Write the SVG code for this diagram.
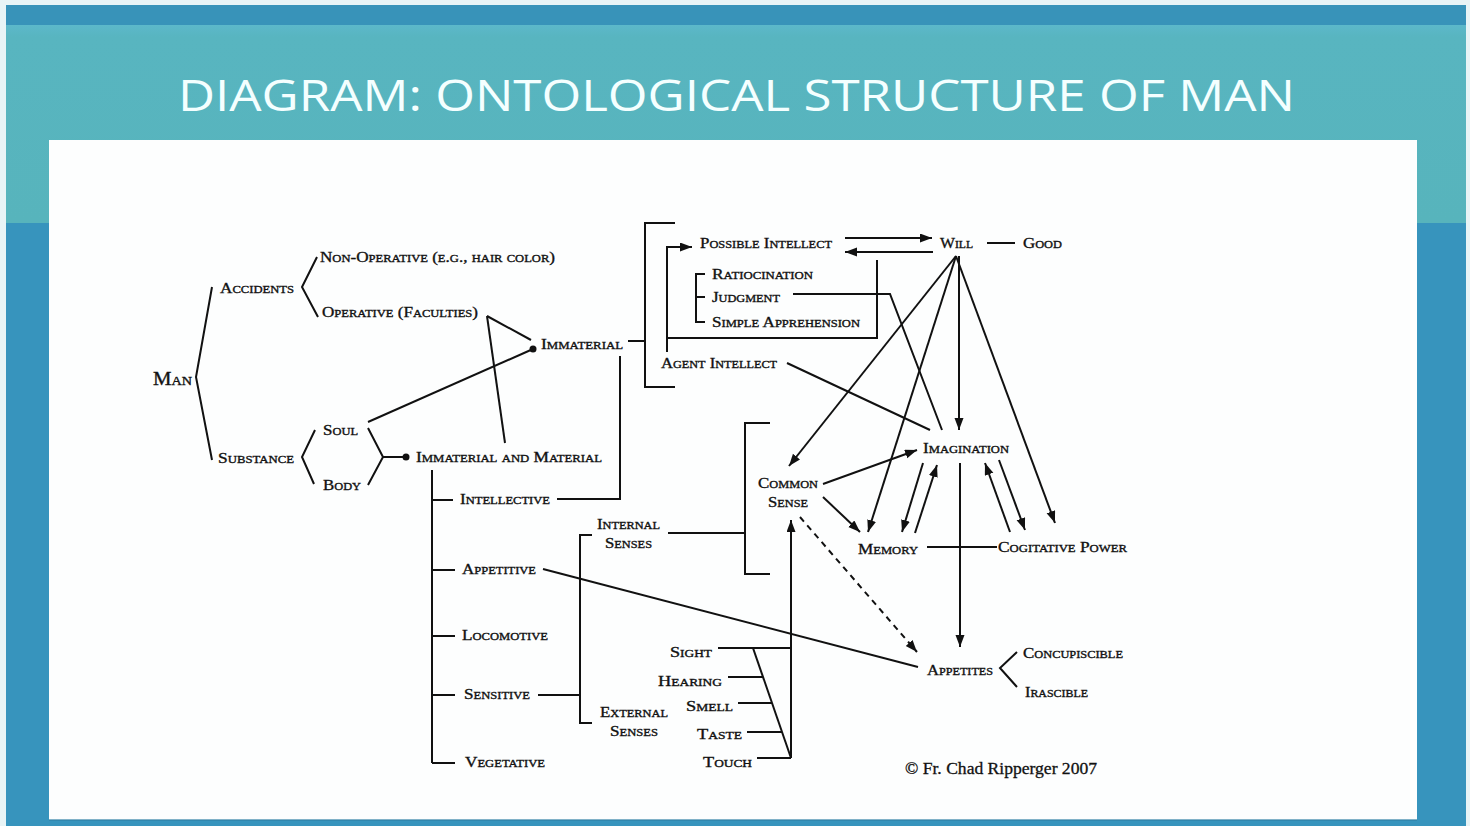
<svg xmlns="http://www.w3.org/2000/svg" width="1470" height="826" viewBox="0 0 1470 826">
<defs>
<style>
.sc{font-family:"Liberation Serif","Times New Roman",serif;font-size:15px;font-variant:small-caps;fill:#111;stroke:#111;stroke-width:0.35;}
.big{font-size:19px;}
.ln{stroke:#111;stroke-width:2;fill:none;stroke-linejoin:miter;}
.ar{stroke:#111;stroke-width:2;fill:none;marker-end:url(#ah);}
.dash{stroke-dasharray:6 5;}
.title{font-family:"Open Sans","Liberation Sans",sans-serif;font-size:44px;fill:#f4ffff;}
.copy{font-family:"Liberation Serif","Times New Roman",serif;font-size:17px;fill:#111;stroke:#111;stroke-width:0.3;}
</style>
<marker id="ah" markerUnits="userSpaceOnUse" markerWidth="13" markerHeight="10" refX="12" refY="4.5" orient="auto">
<path d="M0,0 L12,4.5 L0,9 z" fill="#111"/>
</marker>
<linearGradient id="teal" x1="0" y1="0" x2="0" y2="1">
<stop offset="0" stop-color="#5cb8ca"/>
<stop offset="0.06" stop-color="#58b5c0"/>
<stop offset="1" stop-color="#57b4bc"/>
</linearGradient>
</defs>
<g id="background">
<rect x="0" y="0" width="1470" height="826" fill="#e8f4f6"/>
<rect x="6" y="5" width="1460" height="821" fill="#3794bd"/>
<rect x="6" y="5" width="1460" height="20" fill="#3893b9"/>
<rect x="6" y="25" width="1460" height="198" fill="url(#teal)"/>
<rect x="49" y="140" width="1368" height="680" fill="#fdfefe"/>
<rect x="49" y="819" width="1368" height="2" fill="#2e7fa3" opacity="0.6"/>
</g>
<g id="title">
<text class="title" x="178" y="111" textLength="1117" lengthAdjust="spacingAndGlyphs">DIAGRAM: ONTOLOGICAL STRUCTURE OF MAN</text>
</g>
<g id="connectors">
<polyline class="ln" points="212,287 196,377 212,460"/>
<polyline class="ln" points="317,257 302,287 318,317"/>
<polyline class="ln" points="315,430 302,457 314,484"/>
<polyline class="ln" points="368,428 383,457 368,485"/>
<line class="ln" x1="383" y1="457" x2="405" y2="457"/>
<circle cx="406" cy="457" r="3.5" fill="#111"/>
<line class="ln" x1="487" y1="316" x2="531" y2="340"/>
<line class="ln" x1="487" y1="316" x2="505" y2="443"/>
<line class="ln" x1="368" y1="422" x2="533" y2="349"/>
<circle cx="533" cy="349" r="3.5" fill="#111"/>
<line class="ln" x1="628" y1="341" x2="646" y2="341"/>
<polyline class="ln" points="557,499 620,499 620,356"/>
<line class="ln" x1="432" y1="470" x2="432" y2="763"/>
<line class="ln" x1="432" y1="500" x2="453" y2="500"/>
<line class="ln" x1="432" y1="570" x2="455" y2="570"/>
<line class="ln" x1="432" y1="636" x2="455" y2="636"/>
<line class="ln" x1="432" y1="695" x2="455" y2="695"/>
<line class="ln" x1="432" y1="763" x2="455" y2="763"/>
<line class="ln" x1="543" y1="569" x2="918" y2="667"/>
<line class="ln" x1="538" y1="695" x2="580" y2="695"/>
<polyline class="ln" points="592,535 580,535 580,723 592,723"/>
<line class="ln" x1="668" y1="533" x2="745" y2="533"/>
<polyline class="ln" points="770,423 745,423 745,574 770,574"/>
<line class="ln" x1="718" y1="648" x2="791" y2="648"/>
<line class="ln" x1="728" y1="677" x2="763" y2="677"/>
<line class="ln" x1="738" y1="703" x2="772" y2="703"/>
<line class="ln" x1="747" y1="732" x2="782" y2="732"/>
<line class="ln" x1="757" y1="758" x2="791" y2="758"/>
<line class="ln" x1="753" y1="648" x2="791" y2="758"/>
<line class="ar" x1="791" y1="758" x2="791" y2="520"/>
<polyline class="ln" points="675,223 645,223 645,387 675,387"/>
<polyline class="ar" points="667,352 667,247 692,247"/>
<polyline class="ln" points="667,338 877,338 877,260"/>
<polyline class="ln" points="705,274 696,274 696,322 705,322"/>
<line class="ln" x1="696" y1="297" x2="705" y2="297"/>
<polyline class="ln" points="793,294 890,294 942,430"/>
<line class="ln" x1="787" y1="363" x2="930" y2="430"/>
<line class="ar" x1="845" y1="238" x2="932" y2="238"/>
<line class="ar" x1="933" y1="252" x2="845" y2="252"/>
<line class="ln" x1="987" y1="243" x2="1015" y2="243"/>
<line class="ar" x1="956" y1="256" x2="789" y2="466"/>
<line class="ar" x1="956" y1="256" x2="868" y2="532"/>
<line class="ar" x1="959" y1="256" x2="959" y2="430"/>
<line class="ar" x1="956" y1="256" x2="1055" y2="523"/>
<line class="ar" x1="823" y1="484" x2="917" y2="450"/>
<line class="ar" x1="823" y1="497" x2="860" y2="532"/>
<line class="ar dash" x1="800" y1="517" x2="917" y2="652"/>
<line class="ar" x1="923" y1="463" x2="902" y2="532"/>
<line class="ar" x1="915" y1="533" x2="937" y2="465"/>
<line class="ar" x1="1010" y1="532" x2="985" y2="463"/>
<line class="ar" x1="999" y1="460" x2="1025" y2="530"/>
<line class="ar" x1="960" y1="463" x2="960" y2="647"/>
<line class="ln" x1="927" y1="547" x2="997" y2="547"/>
<polyline class="ln" points="1017,652 1000,668 1017,687"/>
</g>
<g id="man"><text class="sc big" x="153" y="385" textLength="39" lengthAdjust="spacingAndGlyphs">Man</text></g>
<g id="accidents"><text class="sc" x="220" y="293" textLength="74" lengthAdjust="spacingAndGlyphs">Accidents</text></g>
<g id="non-operative"><text class="sc" x="320" y="262" textLength="235" lengthAdjust="spacingAndGlyphs">Non-Operative (e.g., hair color)</text></g>
<g id="operative"><text class="sc" x="322" y="317" textLength="156" lengthAdjust="spacingAndGlyphs">Operative (Faculties)</text></g>
<g id="immaterial"><text class="sc" x="541" y="349" textLength="82" lengthAdjust="spacingAndGlyphs">Immaterial</text></g>
<g id="soul"><text class="sc" x="323" y="435" textLength="35" lengthAdjust="spacingAndGlyphs">Soul</text></g>
<g id="substance"><text class="sc" x="218" y="463" textLength="76" lengthAdjust="spacingAndGlyphs">Substance</text></g>
<g id="body"><text class="sc" x="323" y="490" textLength="38" lengthAdjust="spacingAndGlyphs">Body</text></g>
<g id="immaterial-material"><text class="sc" x="416" y="462" textLength="186" lengthAdjust="spacingAndGlyphs">Immaterial and Material</text></g>
<g id="intellective"><text class="sc" x="460" y="504" textLength="90" lengthAdjust="spacingAndGlyphs">Intellective</text></g>
<g id="appetitive"><text class="sc" x="462" y="574" textLength="74" lengthAdjust="spacingAndGlyphs">Appetitive</text></g>
<g id="locomotive"><text class="sc" x="462" y="640" textLength="86" lengthAdjust="spacingAndGlyphs">Locomotive</text></g>
<g id="sensitive"><text class="sc" x="464" y="699" textLength="66" lengthAdjust="spacingAndGlyphs">Sensitive</text></g>
<g id="vegetative"><text class="sc" x="465" y="767" textLength="80" lengthAdjust="spacingAndGlyphs">Vegetative</text></g>
<g id="internal-senses">
<text class="sc" x="597" y="529" textLength="63" lengthAdjust="spacingAndGlyphs">Internal</text>
<text class="sc" x="605" y="548" textLength="47" lengthAdjust="spacingAndGlyphs">Senses</text>
</g>
<g id="external-senses">
<text class="sc" x="600" y="717" textLength="68" lengthAdjust="spacingAndGlyphs">External</text>
<text class="sc" x="610" y="736" textLength="48" lengthAdjust="spacingAndGlyphs">Senses</text>
</g>
<g id="sight"><text class="sc" x="670" y="657" textLength="42" lengthAdjust="spacingAndGlyphs">Sight</text></g>
<g id="hearing"><text class="sc" x="658" y="686" textLength="64" lengthAdjust="spacingAndGlyphs">Hearing</text></g>
<g id="smell"><text class="sc" x="686" y="711" textLength="47" lengthAdjust="spacingAndGlyphs">Smell</text></g>
<g id="taste"><text class="sc" x="697" y="739" textLength="45" lengthAdjust="spacingAndGlyphs">Taste</text></g>
<g id="touch"><text class="sc" x="703" y="767" textLength="49" lengthAdjust="spacingAndGlyphs">Touch</text></g>
<g id="common-sense">
<text class="sc" x="758" y="488" textLength="60" lengthAdjust="spacingAndGlyphs">Common</text>
<text class="sc" x="768" y="507" textLength="40" lengthAdjust="spacingAndGlyphs">Sense</text>
</g>
<g id="imagination"><text class="sc" x="923" y="453" textLength="86" lengthAdjust="spacingAndGlyphs">Imagination</text></g>
<g id="memory"><text class="sc" x="858" y="554" textLength="60" lengthAdjust="spacingAndGlyphs">Memory</text></g>
<g id="cogitative-power"><text class="sc" x="998" y="552" textLength="129" lengthAdjust="spacingAndGlyphs">Cogitative Power</text></g>
<g id="appetites"><text class="sc" x="927" y="675" textLength="66" lengthAdjust="spacingAndGlyphs">Appetites</text></g>
<g id="concupiscible"><text class="sc" x="1023" y="658" textLength="100" lengthAdjust="spacingAndGlyphs">Concupiscible</text></g>
<g id="irascible"><text class="sc" x="1025" y="697" textLength="63" lengthAdjust="spacingAndGlyphs">Irascible</text></g>
<g id="possible-intellect"><text class="sc" x="700" y="248" textLength="132" lengthAdjust="spacingAndGlyphs">Possible Intellect</text></g>
<g id="will"><text class="sc" x="940" y="248" textLength="33" lengthAdjust="spacingAndGlyphs">Will</text></g>
<g id="good"><text class="sc" x="1023" y="248" textLength="39" lengthAdjust="spacingAndGlyphs">Good</text></g>
<g id="ratiocination"><text class="sc" x="712" y="279" textLength="101" lengthAdjust="spacingAndGlyphs">Ratiocination</text></g>
<g id="judgment"><text class="sc" x="712" y="302" textLength="68" lengthAdjust="spacingAndGlyphs">Judgment</text></g>
<g id="simple-apprehension"><text class="sc" x="712" y="327" textLength="148" lengthAdjust="spacingAndGlyphs">Simple Apprehension</text></g>
<g id="agent-intellect"><text class="sc" x="661" y="368" textLength="116" lengthAdjust="spacingAndGlyphs">Agent Intellect</text></g>
<g id="copyright"><text class="copy" x="905" y="774" textLength="192" lengthAdjust="spacingAndGlyphs">© Fr. Chad Ripperger 2007</text></g>
</svg>
